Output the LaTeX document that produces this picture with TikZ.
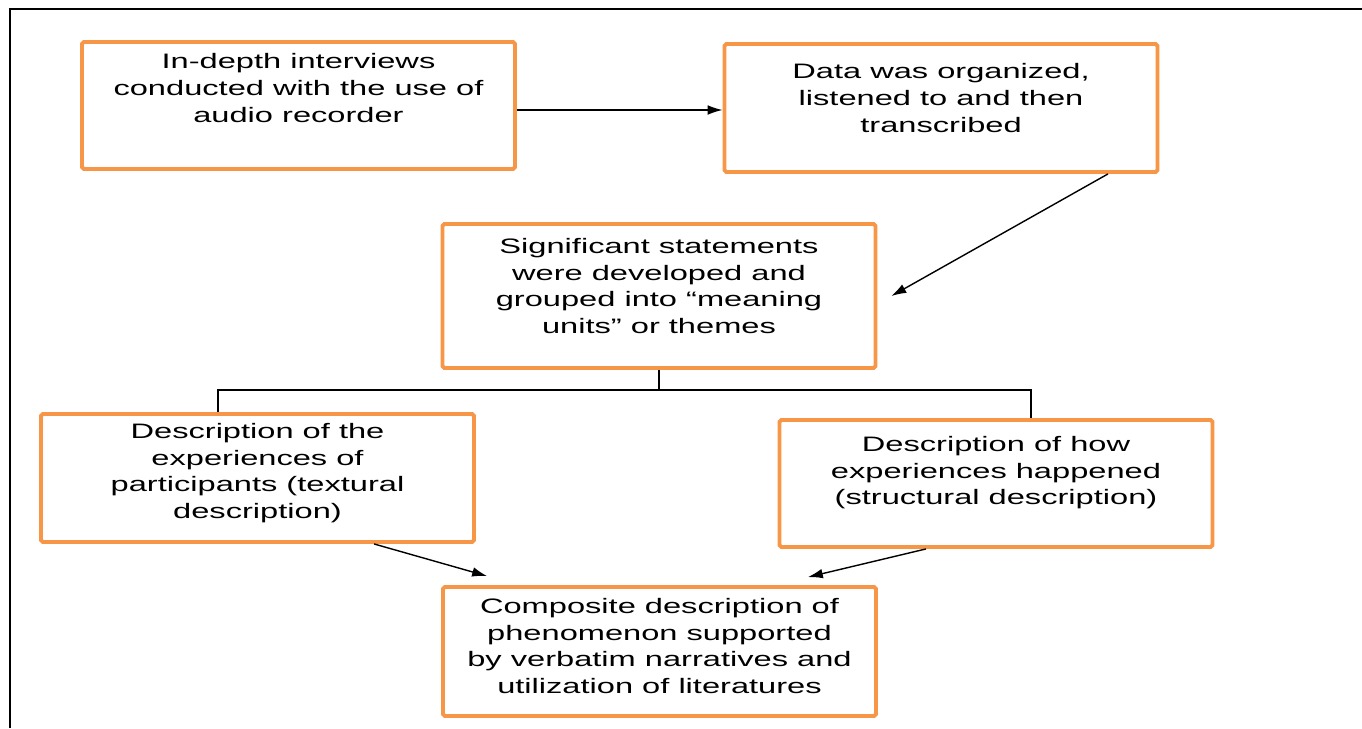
\documentclass[tikz,border=0pt]{standalone}
\usepackage{fontspec}
\setmainfont{Liberation Sans}[FakeStretch=1.56]
\usepackage{tikz}
\usetikzlibrary{arrows.meta}
\definecolor{boxorange}{RGB}{247,150,70}

\begin{document}
\begin{tikzpicture}
	[
	x=0.02cm, y=-0.02cm,
	align=center,
	box/.style={draw=boxorange, line width=2.2pt, rounded corners=1pt, minimum width=8.66cm, inner sep=0pt},
	txt/.style={font=\fontsize{11.9}{15.1}\selectfont, inner sep=0pt},
	link/.style={line width=0.8pt},
	arr/.style={link, -{Latex[length=8.5pt,width=5.5pt]}},
	]
		\useasboundingbox (0,0) rectangle (1362,728);
		% frame
		\draw[line width=1.1pt] (10,728) -- (10,9) -- (1362,9);
		
		% first row
		\node[box, minimum height=2.54cm] (b1) at 	( 298.5, 105.5 ) {};
		\node[txt] (t1) at ([yshift=0.35cm]b1.center) {In-depth interviews\\conducted with the use of\\audio recorder};
		\node[box, minimum height=2.56cm] (b2) at 	( 941.0, 108.0 ) {};
		\node[txt] (t2) at ([yshift=0.2cm]b2.center) {Data was organized,\\listened to and then\\transcribed};
		
		% middle
		\node[box, minimum height=2.88cm] (b3) at 	( 659.0, 296.0 ) {};
		\node[txt] (t3) at ([yshift=0.2cm]b3.center) {Significant statements\\were developed and\\grouped into “meaning\\units” or themes};
		
		% the two descriptions
		\node[box, minimum height=2.56cm] (b4) at 	( 257.5, 478.0 ) {};
		\node[txt] (t4) at ([yshift=0.1cm]b4.center) {Description of the\\experiences of\\participants (textural\\description)};
		\node[box, minimum height=2.54cm] (b5) at 	( 996.0, 483.5 ) {};
		\node[txt] (t5) at ([yshift=0.21cm]b5.center) {Description of how\\experiences happened\\(structural description)};
		
		% composite
		\node[box, minimum height=2.58cm] (b6) at 	( 659.5, 651.5 ) {};
		\node[txt] (t6) at ([yshift=0.11cm]b6.center) {Composite description of\\phenomenon supported\\by verbatim narratives and\\utilization of literatures};
		
		\draw[arr] ([yshift=-0.09cm]b1.east) -- ([yshift=-0.09cm]b1.east -| b2.west);
		\draw[arr] ([xshift=3.34cm]b2.south) -- ([xshift=0.28cm]b3.east);
		
		\coordinate (split) at ([yshift=-0.4cm]b3.south);
		\draw[link] (b3.south) -- (split);
		\draw[link] ([xshift=-0.79cm]b4.north) |- (split) -| ([xshift=0.7cm]b5.north);
		
		\draw[arr] ([xshift=2.33cm]b4.south) -- ([xshift=0.92cm,yshift=0.18cm]b6.north west);
		\draw[arr] ([xshift=-1.4cm]b5.south) -- ([xshift=-1.4cm,yshift=0.16cm]b6.north east);
		
	\end{tikzpicture}
\end{document}
